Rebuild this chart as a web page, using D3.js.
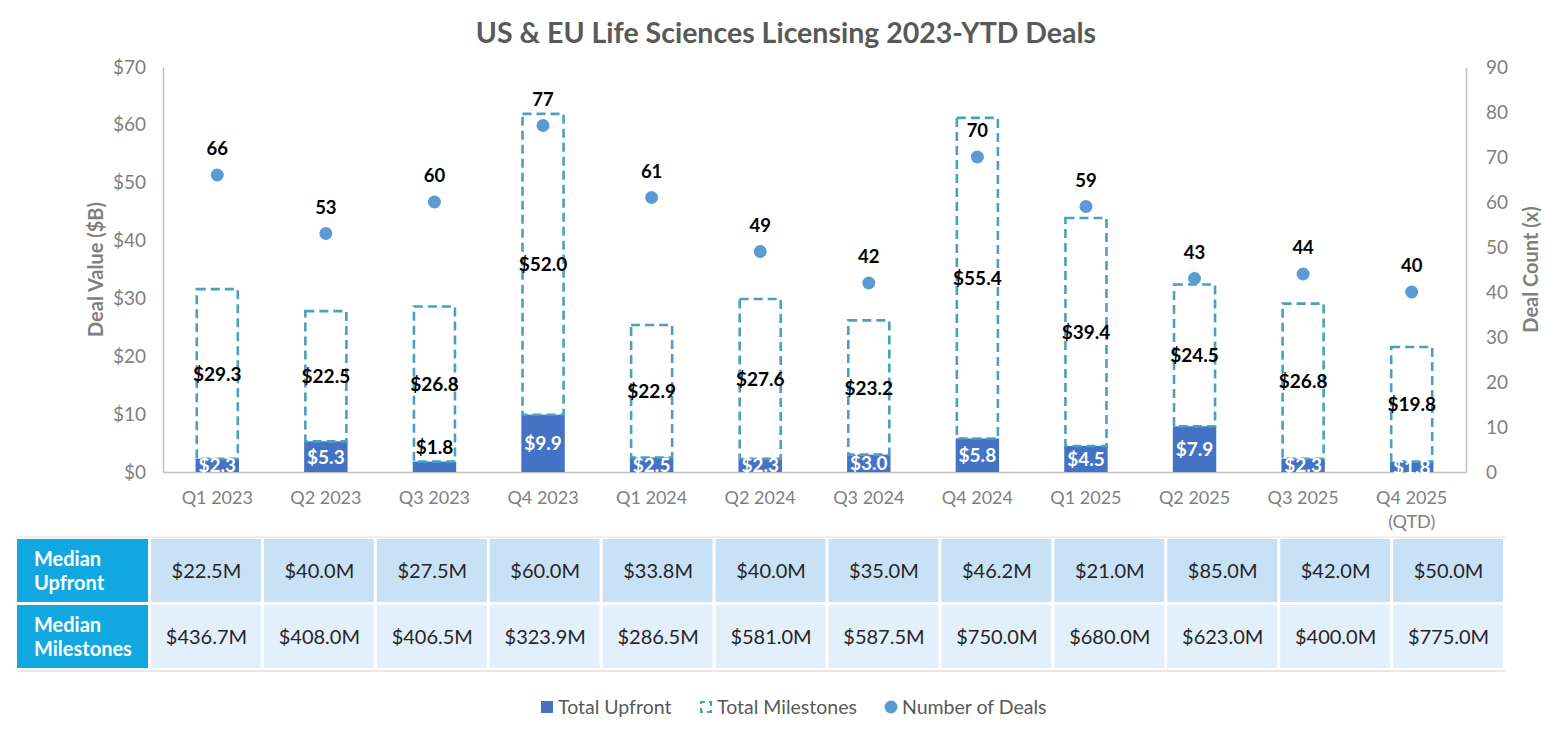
<!DOCTYPE html>
<html>
<head>
<meta charset="utf-8">
<script src="https://cdn.jsdelivr.net/npm/d3@7"></script>
<style>
  html, body { margin: 0; padding: 0; background: #fff; }
  svg { display: block; font-family: "Lato", "Open Sans", sans-serif; }
</style>
</head>
<body>
<svg id="chart" width="1568" height="730"></svg>
<script>
const categories = ["Q1 2023","Q2 2023","Q3 2023","Q4 2023","Q1 2024","Q2 2024","Q3 2024","Q4 2024","Q1 2025","Q2 2025","Q3 2025","Q4 2025 (QTD)"];
const upfront = [2.3,5.3,1.8,9.9,2.5,2.3,3.0,5.8,4.5,7.9,2.3,1.8];
const milestones = [29.3,22.5,26.8,52.0,22.9,27.6,23.2,55.4,39.4,24.5,26.8,19.8];
const deals = [66,53,60,77,61,49,42,70,59,43,44,40];
const medianUpfront = ["$22.5M","$40.0M","$27.5M","$60.0M","$33.8M","$40.0M","$35.0M","$46.2M","$21.0M","$85.0M","$42.0M","$50.0M"];
const medianMilestones = ["$436.7M","$408.0M","$406.5M","$323.9M","$286.5M","$581.0M","$587.5M","$750.0M","$680.0M","$623.0M","$400.0M","$775.0M"];
const leftTicks = [0,10,20,30,40,50,60,70];
const rightTicks = [0,10,20,30,40,50,60,70,80,90];
const tableRows = [["Median","Upfront"],["Median","Milestones"]];
const upfrontLabelOutside = ["Q3 2023"];
const legendItems = ["Total Upfront","Total Milestones","Number of Deals"];

const svg = d3.select("#chart");
const plot = {left: 163, right: 1466, top: 67, bottom: 472};

const x = d3.scaleBand().domain(categories).range([plot.left, plot.right]).paddingInner(0.6).paddingOuter(0.3);
const yL = d3.scaleLinear().domain([0,70]).range([plot.bottom, plot.top]);
const yR = d3.scaleLinear().domain([0,90]).range([plot.bottom, plot.top]);

const gray = "#7f7f7f";
const darkGray = "#595959";
const upColor = "#4472c4";
const msColor = "#4aa0c0";
const dotColor = "#5b9bd5";

// Title
svg.append("text").attr("x", 786).attr("y", 43).attr("text-anchor","middle")
  .attr("font-size", 28.5).attr("font-weight","bold").attr("fill", darkGray)
  .text("US & EU Life Sciences Licensing 2023-YTD Deals");

// Axes
const axL = d3.axisLeft(yL).tickValues(leftTicks).tickSize(0).tickPadding(17).tickFormat(d => "$" + d);
const gL = svg.append("g").attr("transform", `translate(${plot.left},0)`).call(axL);
gL.select(".domain").attr("stroke", "#bfbfbf").attr("stroke-width", 1.5);
gL.selectAll("text").attr("font-size", 19).attr("fill", gray).attr("font-family","Lato, sans-serif");

const axR = d3.axisRight(yR).tickValues(rightTicks).tickSize(0).tickPadding(20);
const gR = svg.append("g").attr("transform", `translate(${plot.right},0)`).call(axR);
gR.select(".domain").attr("stroke", "#bfbfbf").attr("stroke-width", 1.5);
gR.selectAll("text").attr("font-size", 19).attr("fill", gray).attr("font-family","Lato, sans-serif");

const axB = d3.axisBottom(x).tickSize(0).tickPadding(0).tickFormat("");
const gB = svg.append("g").attr("transform", `translate(0,${plot.bottom})`).call(axB);
gB.select(".domain").attr("stroke", "#bfbfbf").attr("stroke-width", 1.5);

// X labels (with line break before parenthesis)
categories.forEach(c => {
  const lines = c.split(/ (?=\()/);
  const t = svg.append("text").attr("text-anchor","middle").attr("font-size", 18).attr("fill", gray)
    .attr("x", x(c) + x.bandwidth()/2).attr("y", 504);
  lines.forEach((ln, i) => t.append("tspan").attr("x", x(c) + x.bandwidth()/2).attr("dy", i === 0 ? 0 : 24).text(ln));
});

// Axis titles
svg.append("text").attr("transform", `translate(103,${(plot.top+plot.bottom)/2}) rotate(-90)`)
  .attr("text-anchor","middle").attr("font-size", 20).attr("font-weight","bold").attr("fill", gray)
  .text("Deal Value ($B)");
svg.append("text").attr("transform", `translate(1538,${(plot.top+plot.bottom)/2}) rotate(-90)`)
  .attr("text-anchor","middle").attr("font-size", 20).attr("font-weight","bold").attr("fill", gray)
  .text("Deal Count (x)");

// Bars
const bars = svg.append("g");
categories.forEach((c, i) => {
  const bx = x(c), bw = x.bandwidth();
  bars.append("rect").attr("x", bx).attr("width", bw)
    .attr("y", yL(upfront[i])).attr("height", yL(0) - yL(upfront[i])).attr("fill", upColor);
  bars.append("rect").attr("x", bx + 1.2).attr("width", bw - 2.4)
    .attr("y", yL(upfront[i] + milestones[i])).attr("height", yL(upfront[i]) - yL(upfront[i] + milestones[i]))
    .attr("fill", "none").attr("stroke", msColor).attr("stroke-width", 2.6).attr("stroke-dasharray", "9,5");
});

// Bar labels
categories.forEach((c, i) => {
  const cx = x(c) + x.bandwidth()/2;
  const msMid = yL(upfront[i] + milestones[i]/2);
  svg.append("text").attr("x", cx).attr("y", msMid + 7).attr("text-anchor","middle")
    .attr("font-size", 19).attr("font-weight","bold").attr("fill", "#000")
    .text("$" + milestones[i].toFixed(1));
  const outside = upfrontLabelOutside.includes(c);
  svg.append("text").attr("x", cx)
    .attr("y", outside ? yL(upfront[i]) - 8 : yL(upfront[i]/2) + 7)
    .attr("text-anchor","middle").attr("font-size", 19).attr("font-weight","bold")
    .attr("fill", outside ? "#000" : "#fff")
    .text("$" + upfront[i].toFixed(1));
});

// Dots + labels
categories.forEach((c, i) => {
  const cx = x(c) + x.bandwidth()/2;
  svg.append("circle").attr("cx", cx).attr("cy", yR(deals[i])).attr("r", 6.5).attr("fill", dotColor);
  svg.append("text").attr("x", cx).attr("y", yR(deals[i]) - 20).attr("text-anchor","middle")
    .attr("font-size", 18.5).attr("font-weight","bold").attr("fill", "#000").text(deals[i]);
});

// Table
const tbl = {left: 17, headW: 133, right: 1505, top: 539, rowH: 63, gap: 3};
const cellX = d3.scaleBand().domain(categories).range([tbl.left + tbl.headW, tbl.right]).paddingInner(0);
svg.append("line").attr("x1", tbl.left).attr("x2", tbl.right).attr("y1", tbl.top - 2).attr("y2", tbl.top - 2).attr("stroke", "#e0e0e0");
svg.append("line").attr("x1", tbl.left).attr("x2", tbl.right).attr("y1", tbl.top + 2*tbl.rowH + 2*tbl.gap).attr("y2", tbl.top + 2*tbl.rowH + 2*tbl.gap).attr("stroke", "#d0d0d0");
const rowFills = ["#c8e1f6", "#e3f0fb"];
const rowData = [medianUpfront, medianMilestones];
tableRows.forEach((hdr, r) => {
  const ry = tbl.top + r * (tbl.rowH + tbl.gap);
  svg.append("rect").attr("x", tbl.left).attr("y", ry).attr("width", tbl.headW - 2).attr("height", tbl.rowH).attr("fill", "#11a7e1");
  const ht = svg.append("text").attr("font-size", 20).attr("font-weight","bold").attr("fill", "#fff");
  hdr.forEach((ln, k) => ht.append("tspan").attr("x", tbl.left + 17).attr("y", ry + 27 + k * 24).text(ln));
  categories.forEach((c, i) => {
    svg.append("rect").attr("x", cellX(c) + 1).attr("y", ry).attr("width", cellX.bandwidth() - 3).attr("height", tbl.rowH).attr("fill", rowFills[r]);
    svg.append("text").attr("x", cellX(c) + cellX.bandwidth()/2).attr("y", ry + tbl.rowH/2 + 7)
      .attr("text-anchor","middle").attr("font-size", 20).attr("fill", "#262626").text(rowData[r][i]);
  });
});

// Legend
const lg = svg.append("g");
const ly = 707;
lg.append("rect").attr("x", 541).attr("y", ly - 6).attr("width", 12).attr("height", 12).attr("fill", upColor);
lg.append("text").attr("x", 558).attr("y", ly + 7).attr("font-size", 19.5).attr("fill", darkGray).text(legendItems[0]);
lg.append("rect").attr("x", 701).attr("y", ly - 5).attr("width", 10).attr("height", 10).attr("fill", "none")
  .attr("stroke", msColor).attr("stroke-width", 2.2).attr("stroke-dasharray", "6,4").attr("stroke-dashoffset", 2);
lg.append("text").attr("x", 717).attr("y", ly + 7).attr("font-size", 19.5).attr("fill", darkGray).text(legendItems[1]);
lg.append("circle").attr("cx", 891).attr("cy", ly).attr("r", 6.5).attr("fill", dotColor);
lg.append("text").attr("x", 902).attr("y", ly + 7).attr("font-size", 19.5).attr("fill", darkGray).text(legendItems[2]);
</script>
</body>
</html>
